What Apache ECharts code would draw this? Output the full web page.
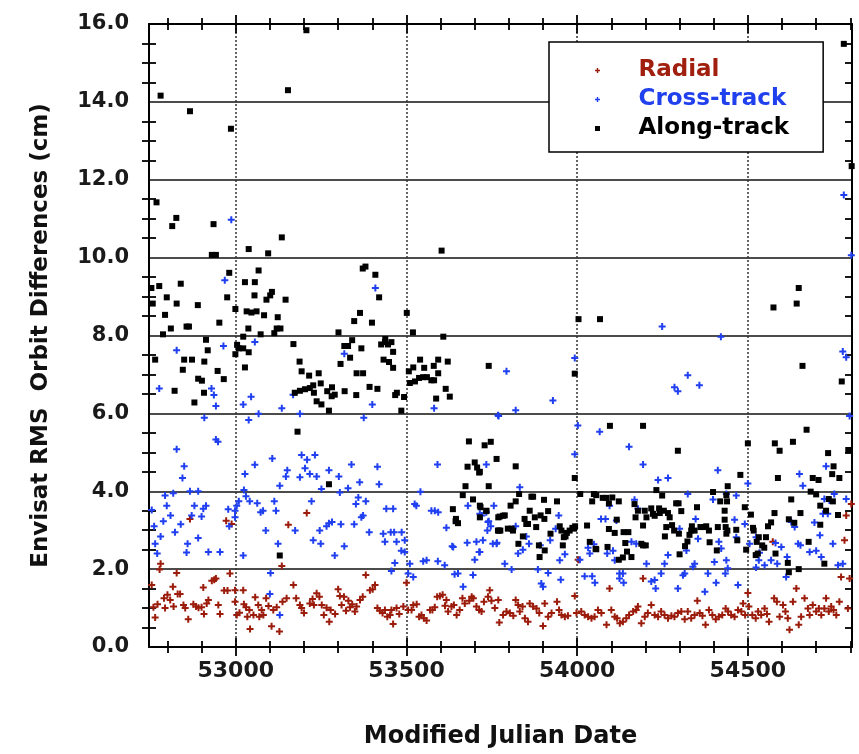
<!DOCTYPE html>
<html><head><meta charset="utf-8">
<script src="https://cdn.jsdelivr.net/npm/echarts@6/dist/echarts.min.js"></script>
<style>html,body{margin:0;padding:0;background:#fff}#c{width:859px;height:754px}</style>
</head><body><div id="c"></div>
<script>
const seriesNames = ['Radial', 'Cross-track', 'Along-track'];
const xLabelValues = [53000, 53500, 54000, 54500];
const yLabelValues = [0, 2, 4, 6, 8, 10, 12, 14, 16];
const xTitle = 'Modified Julian Date';
const yTitle = 'Envisat RMS  Orbit Differences (cm)';

const radial = [
[52754,1.59],[52759,1.02],[52764,0.76],[52771,1.10],[52777,1.99],[52780,2.14],[52790,1.25],[52793,1.00],[52800,1.34],[52808,1.21],[52816,1.55],[52818,1.04],[52827,1.90],[52830,1.36],[52837,1.36],[52847,1.08],[52852,1.00],[52861,0.71],[52866,3.29],[52876,1.10],[52884,1.04],[52891,1.01],[52900,1.02],[52905,1.53],[52907,0.85],[52915,1.12],[52920,1.21],[52930,1.70],[52937,1.73],[52942,1.76],[52949,1.08],[52954,0.85],[52966,1.45],[52972,3.24],[52976,1.45],[52983,1.89],[52988,3.16],[52998,1.16],[52998,1.46],[53003,0.82],[53011,0.88],[53022,1.46],[53024,1.10],[53030,1.02],[53034,0.78],[53040,0.95],[53042,0.46],[53052,0.82],[53057,1.28],[53066,1.08],[53069,0.78],[53076,0.95],[53081,0.82],[53089,1.25],[53096,1.05],[53105,0.53],[53110,0.95],[53120,1.02],[53128,0.40],[53135,2.08],[53137,1.16],[53149,1.25],[53154,3.14],[53169,1.59],[53177,1.25],[53188,1.08],[53193,1.00],[53200,0.87],[53208,3.44],[53217,1.12],[53225,1.23],[53229,1.08],[53237,1.38],[53245,1.29],[53252,1.08],[53258,0.82],[53266,1.01],[53274,0.65],[53278,0.95],[53291,0.85],[53300,1.48],[53305,1.31],[53310,1.08],[53317,1.29],[53323,0.93],[53330,1.19],[53335,1.02],[53341,1.10],[53349,0.91],[53354,1.04],[53364,1.21],[53372,1.29],[53381,1.85],[53393,1.46],[53401,1.48],[53408,1.59],[53415,1.00],[53422,0.93],[53430,0.87],[53437,0.95],[53444,0.78],[53452,0.82],[53456,0.95],[53461,0.59],[53471,1.00],[53479,0.85],[53491,1.04],[53500,1.65],[53505,0.95],[53515,0.95],[53520,1.08],[53530,1.10],[53537,0.78],[53544,0.82],[53551,0.74],[53559,0.68],[53569,0.95],[53576,0.95],[53583,1.02],[53590,1.29],[53598,1.31],[53606,1.34],[53613,1.06],[53617,1.21],[53622,0.91],[53632,1.04],[53639,1.08],[53647,0.82],[53656,0.95],[53664,1.25],[53671,1.12],[53684,1.19],[53691,1.29],[53696,1.25],[53705,1.04],[53713,0.95],[53720,0.91],[53727,1.16],[53739,1.29],[53744,1.46],[53749,1.19],[53759,1.00],[53769,1.21],[53772,0.63],
[53783,0.82],[53793,0.91],[53803,0.87],[53813,0.80],[53820,1.21],[53827,1.08],[53832,0.91],[53840,1.04],[53847,0.74],[53856,0.65],[53861,1.12],[53871,1.04],[53881,0.99],[53889,0.87],[53900,0.54],[53905,1.12],[53915,0.78],[53925,0.87],[53941,1.16],[53947,0.95],[53954,0.82],[53964,0.78],[53973,0.80],[53993,1.31],[53998,0.87],[54003,2.24],[54012,0.91],[54022,0.82],[54032,0.78],[54042,0.74],[54051,0.78],[54061,0.95],[54071,0.87],[54086,0.57],[54095,1.50],[54100,0.95],[54110,0.78],[54117,0.74],[54125,0.61],[54134,0.65],[54144,0.74],[54152,0.82],[54164,0.91],[54173,0.95],[54178,1.04],[54188,0.61],[54193,1.76],[54198,0.78],[54207,0.87],[54217,1.08],[54227,0.82],[54237,0.78],[54246,0.91],[54256,0.82],[54266,0.74],[54276,0.80],[54285,0.78],[54295,0.87],[54305,0.91],[54315,0.71],[54324,0.91],[54334,0.74],[54344,0.82],[54352,1.19],[54359,0.87],[54367,0.80],[54376,0.57],[54386,0.95],[54396,0.82],[54406,0.71],[54415,0.78],[54425,0.82],[54435,0.99],[54442,0.91],[54451,0.82],[54461,0.78],[54471,0.95],[54481,0.91],[54486,1.12],[54492,0.82],[54500,1.39],[54503,1.04],[54513,0.82],[54523,0.74],[54530,0.91],[54539,0.82],[54549,0.99],[54556,0.85],[54562,0.65],[54573,2.70],[54577,1.25],[54585,1.16],[54593,0.78],[54603,1.08],[54610,0.91],[54617,0.74],[54622,0.44],[54632,1.16],[54642,1.50],[54649,0.57],[54656,0.78],[54666,1.25],[54676,0.99],[54681,0.82],[54690,1.08],[54700,0.91],[54708,0.99],[54715,0.82],[54724,0.99],[54729,1.25],[54737,0.91],[54744,1.04],[54751,0.95],[54759,0.82],[54768,1.16],[54773,1.80],[54783,2.74],[54788,3.38],[54793,0.99],[54798,1.76],[54803,3.67]
];

const crossTrack = [
[52987,10.97],[52968,9.42],[53409,9.22],[52827,7.62],[52776,6.64],[52964,7.73],[52929,6.64],[52936,6.47],[52942,6.19],[52908,5.89],[53056,7.83],[53045,6.43],[53022,6.23],[53038,5.83],[53067,5.99],[53135,6.13],[53188,5.99],[53168,6.48],[53318,7.53],[53375,5.89],[53400,6.23],[53581,6.13],[53768,5.95],
[54249,8.23],[54421,7.97],[53993,7.42],[53793,7.08],[54324,6.98],[54285,6.67],[54295,6.57],[54358,6.72],[53929,6.33],[53820,6.08],[53770,5.93],[54002,5.69],[54066,5.53],[54152,5.14],[54193,4.69],[53993,4.95],[54412,4.54],[53734,4.69],[54237,4.29],[54266,4.34],[53832,4.10],[54651,4.44],[54661,4.14],[54729,4.64],[54781,11.61],[54803,10.06],[54778,7.59],[54788,7.44],[54798,5.93],
[52827,5.08],[52849,4.64],[52844,4.34],[52942,5.33],[52948,5.27],
[52793,3.89],[52817,3.95],[52798,3.63],[52809,3.38],[52788,3.23],[52761,3.10],[52754,3.52],[52764,2.65],[52770,2.40],[52780,2.84],[52839,3.15],[52822,2.95],[52859,2.65],[52856,2.43],[52890,2.80],[52920,2.44],[52954,2.44],[52866,4.00],[52890,4.00],[52879,3.63],[52871,3.38],[52900,3.35],[52905,3.55],[52913,3.63],[52978,3.54],[52981,3.10],[52998,3.50],[53003,3.63],[53009,3.74],[52998,3.33],
[53027,4.44],[53056,4.68],[53024,4.03],[53030,3.87],[53041,3.74],[53063,3.69],[53073,3.46],[53080,3.50],[53088,2.99],[53022,2.35],[53102,1.90],[53100,1.36],[53129,0.82],[53124,2.65],
[53107,4.84],[53113,3.74],[53118,3.50],[53129,4.14],[53147,4.38],[53151,4.54],[53174,2.99],[53188,4.36],[53193,4.93],[53203,4.59],[53209,4.81],[53217,4.44],[53232,4.93],[53222,3.74],[53227,2.74],[53249,2.65],[53246,2.99],[53237,4.38],[53251,4.06],[53266,3.10],[53273,3.18],[53282,3.21],[53273,4.54],[53302,4.38],[53305,3.97],[53308,3.15],[53290,2.35],[53318,2.59],[53329,4.08],[53339,4.69],[53363,4.23],[53347,3.15],[53359,3.84],[53352,3.67],[53373,3.38],[53368,3.33],[53381,3.74],[53391,2.95],[53415,4.63],[53420,4.18],[53441,3.55],[53461,3.55],[53432,2.91],[53437,2.70],[53454,2.95],[53464,2.95],[53471,2.70],[53486,2.95],[53495,2.74],[53466,2.16],[53456,1.95],[53485,2.47],[53495,2.44],[53505,1.89],[53510,2.14],[53520,1.80],
[53524,3.67],[53529,3.63],[53541,3.99],[53573,3.50],[53583,3.50],[53593,3.46],[53559,2.23],[53549,2.20],[53592,2.20],[53591,4.69],[53617,3.06],[53634,2.59],[53637,2.57],[53612,2.10],[53651,1.89],[53641,1.87],[53666,1.55],[53695,1.85],[53680,3.63],[53705,2.70],[53678,2.68],[53713,2.44],[53700,2.24],[53734,3.46],[53741,3.23],[53747,3.10],[53753,2.65],[53765,2.68],[53724,2.74],[53721,3.38],[53737,2.99],
[54168,3.78],[54178,3.55],[54095,3.63],[54070,3.29],[54083,3.29],[54115,3.25],[54324,3.93],[54398,3.79],[54437,3.93],[54466,3.89],[53715,3.42],[53739,3.21],[53756,3.63],[53820,3.10],[53851,2.84],[53841,2.50],[53859,2.65],[53892,2.61],[53921,2.74],[53946,3.38],[53937,3.04],[53949,2.23],[53964,2.38],[53764,2.65],[53788,2.14],[53808,1.99],[53827,2.40],[53715,2.44],[53885,1.99],[53900,1.55],[53895,1.63],[53915,1.90],[53952,1.73],[54008,2.24],[54032,2.55],[54049,2.64],[54037,2.40],[54022,1.82],[54044,1.82],[54052,1.65],[54088,2.40],[54105,2.47],[54110,2.23],[54124,1.89],[54124,1.76],[54136,1.65],[54134,1.89],[54159,2.70],[54173,2.65],[54203,2.14],[54217,1.68],[54227,1.72],[54230,1.50],[54246,1.89],[54266,2.36],[54256,2.14],[54295,1.50],[54310,1.84],[54315,1.89],[54344,2.14],[54339,2.06],[54354,2.78],[54347,3.29],[54300,3.04],[54320,2.48],[54374,1.42],[54383,1.89],[54407,1.65],[54402,2.18],[54434,1.89],[54441,2.02],[54471,1.59],[54437,2.23],[54461,3.27],[54491,3.16],[54466,2.82],[54415,2.70],[54422,2.53],[54500,4.20],[54524,2.82],[54524,2.04],[54505,2.65],[54534,2.42],[54532,2.23],[54549,2.10],[54568,2.23],[54581,2.67],[54586,2.14],[54598,2.57],[54612,1.80],[54615,2.31],[54627,3.21],[54637,3.08],[54647,2.65],[54654,2.61],[54681,2.44],[54700,2.47],[54715,2.31],[54695,3.20],[54711,2.87],[54720,3.42],[54734,3.42],[54749,2.65],[54764,2.10],[54778,2.14],[54724,3.80],[54739,3.76],[54753,3.93],[54788,3.80]
];

const alongTrack = [
[53207,15.84],[52780,14.16],[52866,13.76],[52986,13.31],[53153,14.30],[54781,15.49],[54804,12.35],
[52768,11.42],[52826,11.02],[52814,10.81],[52935,10.86],[53135,10.52],
[52930,10.07],[52942,10.07],[53038,10.22],[53095,10.11],[53603,10.18],
[52753,9.22],[52776,9.27],[52757,8.82],[52798,8.98],[52839,9.33],[52827,8.82],[52793,8.53],[52810,8.18],[52787,8.03],[52856,8.23],[52863,8.23],[52889,8.78],[52952,8.33],[52981,9.61],[52975,8.98],[52999,8.68],[53027,9.37],[53056,9.37],[53067,9.67],[53055,9.03],[53032,8.62],[53046,8.59],[53061,8.62],[53037,8.18],[53022,7.97],[53073,8.03],[53083,8.52],[53090,8.92],[53101,9.03],[53106,9.12],[53123,8.47],[53146,8.92],[53113,8.06],[53120,8.18],[53131,8.18],
[52913,7.89],[52918,7.62],[53004,7.76],[53009,7.67],[53022,7.67],[53038,7.57],[52999,7.52],[53027,7.18],[52947,7.09],[52965,6.88],[52908,7.33],[52890,6.89],[52901,6.84],[52907,6.53],[52879,6.28],[52821,6.58],[52764,7.38],[52845,7.12],[52849,7.38],[52872,7.38],
[53169,7.78],[53187,7.33],[53193,7.08],[53215,6.97],[53243,7.03],[53227,6.72],[53217,6.65],[53203,6.62],[53188,6.58],[53173,6.53],[53249,6.77],[53229,6.53],[53237,6.31],[53251,6.23],[53273,6.07],[53268,6.57],[53282,6.67],[53281,6.44],[53290,6.48],[53319,6.57],[53353,6.47],[53307,7.27],[53318,7.73],[53329,7.73],[53341,7.88],[53301,8.08],[53335,7.43],[53368,7.67],[53347,8.37],[53364,8.58],[53372,9.72],[53380,9.77],[53409,9.56],[53420,8.98],[53399,8.33],[53354,7.03],[53373,7.03],[53392,6.68],[53415,6.63],[53426,7.77],[53437,7.83],[53446,7.77],[53456,7.83],[53438,7.91],[53461,7.58],[53433,7.38],[53449,7.32],[53461,7.17],[53467,6.47],[53472,6.53],[53493,6.42],[53485,6.07],[53501,8.58],[53519,8.08],[53608,7.97],
[53507,7.08],[53520,7.18],[53540,7.38],[53552,7.17],[53580,7.22],[53593,7.38],[53621,7.33],[53510,6.78],[53525,6.82],[53537,6.91],[53549,6.93],[53560,6.93],[53573,6.85],[53581,6.85],[53593,7.03],[53587,6.38],[53615,6.63],[53627,6.43],[53741,7.22],
[53683,5.28],[53729,5.18],[53747,5.27],[53181,5.53],[53129,2.35],[53273,4.18],[53764,4.83],[53679,4.63],[53700,4.74],[53707,4.61],[53713,4.48],[53673,4.13],[53741,4.13],[53665,3.90],[53695,3.79],[53717,3.59],[53734,3.49],[53769,3.33],[53636,3.54],[53645,3.29],[53651,3.18],[53644,3.23],[53771,2.99],
[54004,8.42],[54067,8.42],[54575,8.72],[54643,8.82],[54649,9.22],[54660,7.22],[54775,6.82],[53993,7.02],[54794,5.06],[53820,4.64],[54096,5.68],[54193,5.68],[54295,5.04],[53993,4.34],[54500,5.23],[54579,5.23],[54593,5.04],[54632,5.27],[54672,5.58],[54735,4.98],[54751,4.64],[54747,4.44],[54768,4.34],[54588,4.34],[54690,4.34],[54707,4.29],[54684,3.99],[54700,3.92],[54737,3.80],[54749,3.74],[54764,3.39],[54712,3.63],[54729,3.50],[54712,3.14],[54678,2.70],[54724,2.14],[54649,2.00],[54620,1.92],[54617,2.16],[54627,3.79],[54654,3.44],[54620,3.28],[54636,3.19],[54578,3.44],[54568,3.20],[54559,3.10],[54553,2.82],[54581,2.40],[54509,3.40],[54515,3.06],[54517,2.99],[54532,2.82],[54526,2.70],[54542,2.61],[54548,2.55],[54523,2.36],[54529,2.40],[54495,2.50],[54491,3.59],[54478,4.42],[54441,4.13],[54437,3.90],[54439,3.74],[54432,3.50],[54432,3.27],[54440,2.99],[54437,2.91],[54435,3.08],[54469,2.74],[54466,3.01],[54398,3.98],[54419,3.74],[54412,3.08],[54409,2.48],[54388,2.69],[54386,2.99],[54378,3.10],[54351,3.59],[54361,3.08],[54374,3.08],[54344,2.99],[54334,2.99],[54329,2.88],[54336,3.10],[54323,2.71],[54316,2.59],[54300,2.38],[54297,3.69],[54305,3.49],[54290,3.69],[54284,2.99],[54278,3.13],[54298,2.91],[54261,3.08],[54257,2.84],[54266,3.44],[54271,3.33],[54254,3.50],[54242,3.44],[54240,3.56],[54232,4.03],[54249,3.89],[54227,3.37],[54217,3.56],[54222,3.42],[54198,3.50],[54203,3.33],[54193,3.12],[54188,2.65],[54193,2.61],[54201,2.61],[54168,3.67],[54178,3.50],[54171,3.33],[54122,3.74],[54116,3.27],[54110,2.93],[54136,2.95],[54150,2.95],[54141,2.67],[54146,2.45],[54159,2.31],[54122,2.24],[54134,2.30],[54103,3.84],[54093,3.69],[54085,3.83],[54075,3.83],[54056,3.90],[54049,3.93],[54089,2.57],[54056,2.51],[54093,3.03],[54029,3.12],[54037,2.70],[54054,2.52],[54009,3.93],[53991,3.04],[53994,3.10],[53986,3.06],[53978,2.99],[53970,2.93],[53961,2.82],[53958,2.61],[53966,2.84],[53941,3.74],[53949,3.10],[53954,2.99],[53915,3.49],[53922,2.91],[53903,3.78],[53904,3.29],[53905,2.48],[53890,2.31],[53888,2.61],[53880,3.08],[53893,3.38],[53876,3.33],[53866,3.86],[53871,3.86],[53861,3.50],[53851,3.16],[53846,3.29],[53841,2.84],[53856,3.16],[53830,3.93],[53820,3.74],[53805,3.63],[53788,3.38],[53773,3.35],[53783,3.37],[53768,2.99],[53775,2.99],[53797,3.04],[53808,3.04],[53828,2.65],[53812,2.99],[53715,3.63],[53734,3.50],[53715,3.33],[54044,3.74],[53715,4.50]
];

const X_MIN = 52746, X_MAX = 54805;
const xMinorTicks = [];
for (let v = 52800; v <= 54800; v += 100) if (v % 500 !== 0) xMinorTicks.push(v);
const yMinorTicks = [];
for (let k = 1; k < 32; k++) if (k % 4 !== 0) yMinorTicks.push(k / 2);

const FONT = 'DejaVu Sans';
const RED = '#9c1c0c', BLUE = '#1f3ff0', BLACK = '#000000';
const PLUS = 'path://M2.5,0H4.5V2.5H7V4.5H4.5V7H2.5V4.5H0V2.5H2.5Z';
const SQUARE = 'path://M0,0H6V6H0Z';
const TICK = { color: '#000', width: 1.8 };

function tickOnlyX(position, values, half) {
  return {
    type: 'value', min: X_MIN, max: X_MAX, position: position, offset: half,
    axisLine: { show: false, onZero: false },
    axisLabel: { show: false },
    axisTick: { show: true, inside: true, length: 2 * half, customValues: values, lineStyle: TICK },
    splitLine: { show: false }
  };
}
function tickOnlyY(position, values, half, len) {
  return {
    type: 'value', min: 0, max: 16, position: position, offset: half,
    axisLine: { show: false, onZero: false },
    axisLabel: { show: false },
    axisTick: { show: true, inside: true, length: len, customValues: values, lineStyle: TICK },
    splitLine: { show: false }
  };
}

const chart = echarts.init(document.getElementById('c'), null, { renderer: 'canvas' });
chart.setOption({
  animation: false,
  backgroundColor: '#ffffff',
  grid: { left: 149, right: 7, top: 24, bottom: 104, containLabel: false },
  xAxis: [
    {
      type: 'value', min: X_MIN, max: X_MAX, position: 'bottom',
      name: xTitle, nameLocation: 'middle', nameGap: 78,
      nameTextStyle: { fontFamily: FONT, fontWeight: 'bold', fontSize: 24, color: '#111' },
      axisLine: { show: true, onZero: false, lineStyle: { color: '#000', width: 2 } },
      axisTick: { show: false, customValues: xLabelValues },
      axisLabel: { customValues: xLabelValues, margin: 13, fontFamily: FONT, fontWeight: 'bold', fontSize: 22, color: '#1a1a1a',
                   formatter: v => String(Math.round(v)) },
      splitLine: { show: true, lineStyle: { color: '#333', width: 1.5, type: [2, 2] } }
    },
    tickOnlyX('bottom', xMinorTicks, 6),
    tickOnlyX('bottom', xLabelValues, 9),
    {
      type: 'value', min: X_MIN, max: X_MAX, position: 'top',
      axisLine: { show: true, onZero: false, lineStyle: { color: '#000', width: 2 } },
      axisTick: { show: false }, axisLabel: { show: false }, splitLine: { show: false }
    },
    tickOnlyX('top', xMinorTicks, 6),
    tickOnlyX('top', xLabelValues, 9)
  ],
  yAxis: [
    {
      type: 'value', min: 0, max: 16, interval: 2, position: 'left',
      name: yTitle, nameLocation: 'middle', nameGap: 96,
      nameTextStyle: { fontFamily: FONT, fontWeight: 'bold', fontSize: 23, color: '#111' },
      axisLine: { show: true, onZero: false, lineStyle: { color: '#000', width: 2 } },
      axisTick: { show: false },
      axisLabel: { margin: 20, fontFamily: FONT, fontWeight: 'bold', fontSize: 21, color: '#1a1a1a',
                   formatter: v => yLabelValues.includes(v) ? v.toFixed(1) : '' },
      splitLine: { show: true, lineStyle: { color: '#111', width: 1.6, type: 'solid' } }
    },
    tickOnlyY('left', yMinorTicks, 7, 14),
    {
      type: 'value', min: 0, max: 16, position: 'right',
      axisLine: { show: true, onZero: false, lineStyle: { color: '#000', width: 2 } },
      axisTick: { show: true, inside: true, length: 7, customValues: yMinorTicks, lineStyle: TICK },
      axisLabel: { show: false }, splitLine: { show: false }
    }
  ],
  legend: {
    orient: 'vertical', left: 549, top: 42,
    padding: [17, 34, 12, 46], itemGap: 6, itemWidth: 72, itemHeight: 5,
    backgroundColor: '#ffffff', borderColor: '#000', borderWidth: 1.5,
    selectedMode: false, symbolKeepAspect: true,
    textStyle: { fontFamily: FONT, fontWeight: 'bold', fontSize: 23 },
    data: [
      { name: seriesNames[0], icon: PLUS, textStyle: { color: '#a01f0e' } },
      { name: seriesNames[1], icon: PLUS, textStyle: { color: '#2040ee' } },
      { name: seriesNames[2], icon: SQUARE, textStyle: { color: '#000' } }
    ]
  },
  series: [
    { name: seriesNames[0], type: 'scatter', data: radial, symbol: PLUS, symbolSize: 7,
      itemStyle: { color: RED, opacity: 1 }, z: 2 },
    { name: seriesNames[1], type: 'scatter', data: crossTrack, symbol: PLUS, symbolSize: 7,
      itemStyle: { color: BLUE, opacity: 1 }, z: 3 },
    { name: seriesNames[2], type: 'scatter', data: alongTrack, symbol: 'rect', symbolSize: 6,
      itemStyle: { color: BLACK, opacity: 1 }, z: 4 }
  ]
});
</script>
</body></html>
